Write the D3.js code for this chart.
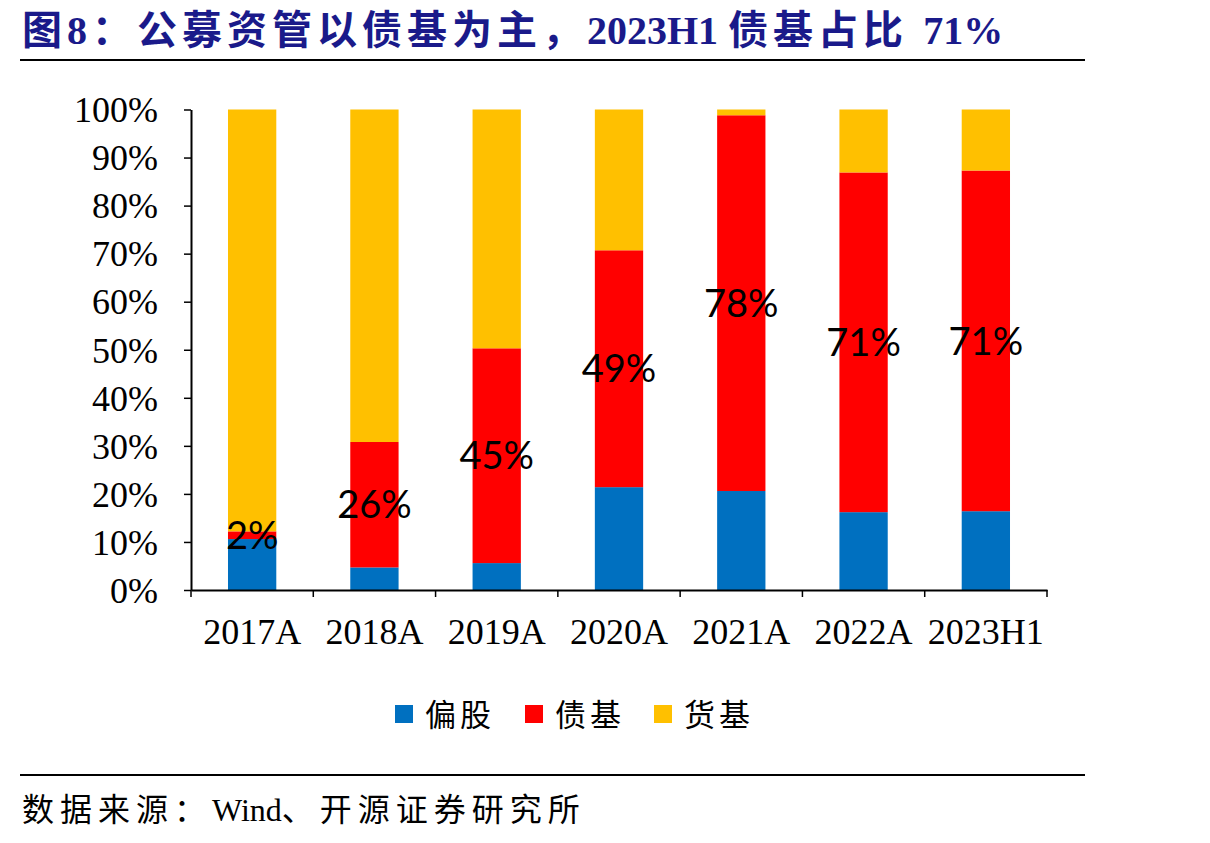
<!DOCTYPE html>
<html><head><meta charset="utf-8">
<script src="https://cdn.jsdelivr.net/npm/d3@7"></script>
<style>body{margin:0;background:#fff}svg{display:block}</style>
</head><body>
<svg id="c" width="1210" height="843"></svg>
<script>
const categories = ["2017A","2018A","2019A","2020A","2021A","2022A","2023H1"];
const seriesNames = ["偏股","债基","货基"];
const equity = [10.6, 4.7, 5.6, 21.4, 20.6, 16.2, 16.4];
const bond = [1.6, 26.1, 44.7, 49.3, 78.2, 70.7, 70.9];
const money = categories.map((c,i)=>100-equity[i]-bond[i]);
const bondLabels = ["2%","26%","45%","49%","78%","71%","71%"];
const yTicks = [0,10,20,30,40,50,60,70,80,90,100];
const colors = ["#0070C0","#FF0000","#FFC000"];

const svg = d3.select("#c");
const serif = "'Liberation Serif','Times New Roman',serif";
const cjk = "'Liberation Serif','Noto Sans CJK SC',serif";

// title: CJK parts spaced, Latin parts not
const titleParts = [["图8：公募资管以债基为主，",5],["2023H1 ",0],["债基占比 ",5],["71%",0]];
const title = svg.append("text").attr("x",22).attr("y",44)
  .attr("font-family",cjk).attr("font-weight","bold")
  .attr("font-size",40).attr("fill","#1a1a8a");
titleParts.forEach(p=>title.append("tspan").attr("letter-spacing",p[1]).text(p[0]));

svg.append("line").attr("x1",20).attr("x2",1085).attr("y1",60).attr("y2",60).attr("stroke","#000").attr("stroke-width",2);
svg.append("line").attr("x1",20).attr("x2",1085).attr("y1",775).attr("y2",775).attr("stroke","#000").attr("stroke-width",2);
const srcParts = [["数据来源：",6],["Wind",0],["、开源证券研究所",6]];
const src = svg.append("text").attr("x",22).attr("y",821).attr("font-family",cjk).attr("font-size",32).attr("fill","#000");
srcParts.forEach(p=>src.append("tspan").attr("letter-spacing",p[1]).text(p[0]));

const x = d3.scaleBand().domain(categories).range([191,1047]).paddingInner(0.605).paddingOuter(0.3025);
const y = d3.scaleLinear().domain([0,100]).range([590,109.5]);

const data = categories.map((c,i)=>({cat:c, "偏股":equity[i], "债基":bond[i], "货基":money[i]}));
const stack = d3.stack().keys(seriesNames)(data);

svg.append("g").selectAll("g").data(stack).join("g").attr("fill",(d,i)=>colors[i])
  .selectAll("rect").data(d=>d).join("rect")
  .attr("x",d=>x(d.data.cat)).attr("width",x.bandwidth())
  .attr("y",d=>y(d[1])).attr("height",d=>y(d[0])-y(d[1]));

// y axis
const yAxis = d3.axisLeft(y).tickValues(yTicks).tickFormat(d=>d+"%").tickSize(7).tickSizeOuter(0);
const gy = svg.append("g").attr("transform","translate(191,0)").call(yAxis);
gy.select(".domain").attr("stroke","#000").attr("stroke-width",2);
gy.selectAll(".tick line").attr("stroke","#000").attr("stroke-width",1.5);
gy.selectAll(".tick text").attr("font-family",serif).attr("font-size",36).attr("fill","#000").attr("x",-33).attr("dy","0.34em");

// x axis
const xAxis = d3.axisBottom(x).tickSize(0).tickSizeOuter(0);
const gx = svg.append("g").attr("transform","translate(0,590)").call(xAxis);
gx.select(".domain").attr("stroke","#000").attr("stroke-width",2);
gx.selectAll(".tick text").attr("font-family",serif).attr("font-size",36).attr("fill","#000").attr("y",28);
const step = x.step();
const bounds = d3.range(categories.length+1).map(i=>191+i*step);
gx.selectAll(".sep").data(bounds).join("line").attr("class","sep")
  .attr("x1",d=>d).attr("x2",d=>d).attr("y1",0).attr("y2",7).attr("stroke","#000").attr("stroke-width",1.5);

// labels on bond segment
svg.append("g").selectAll("text").data(stack[1]).join("text")
  .attr("x",d=>x(d.data.cat)+x.bandwidth()/2).attr("y",d=>(y(d[0])+y(d[1]))/2)
  .attr("text-anchor","middle").attr("dy","0.36em")
  .attr("font-family","Lato,'Open Sans',sans-serif").attr("font-size",38).attr("fill","#000")
  .text((d,i)=>bondLabels[i]);

// legend
const legX = [395,525,654];
const leg = svg.append("g");
seriesNames.forEach((n,i)=>{
  leg.append("rect").attr("x",legX[i]).attr("y",705).attr("width",18).attr("height",18).attr("fill",colors[i]);
  leg.append("text").attr("x",legX[i]+30).attr("y",726).attr("font-family","'Noto Sans CJK SC',serif").attr("font-size",31).attr("letter-spacing",4).attr("fill","#000").text(n);
});
</script>
</body></html>
